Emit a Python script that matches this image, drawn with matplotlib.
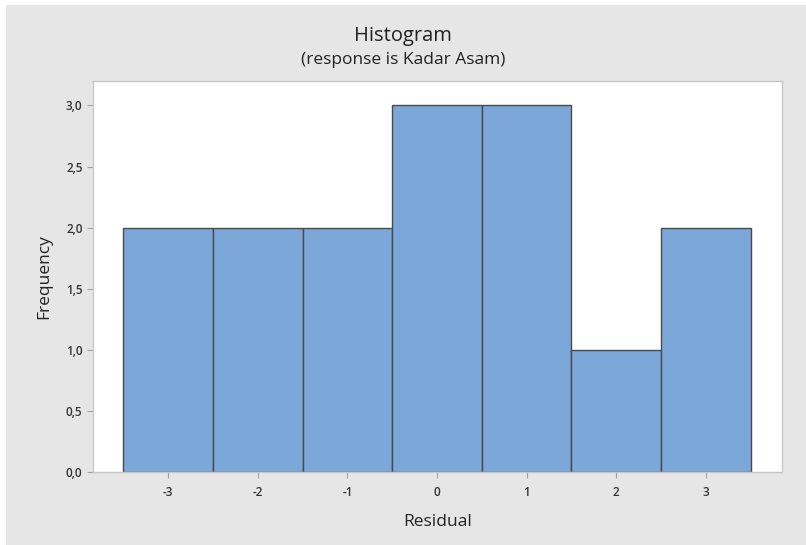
import matplotlib
matplotlib.use("Agg")
import matplotlib.pyplot as plt
from matplotlib.patches import Rectangle
from matplotlib.ticker import FuncFormatter

residual_bins = [-3, -2, -1, 0, 1, 2, 3]
frequency = [2, 2, 2, 3, 3, 1, 2]
y_ticks = [0.0, 0.5, 1.0, 1.5, 2.0, 2.5, 3.0]

plt.rcParams['font.family'] = ['Open Sans', 'DejaVu Sans']
plt.rcParams['axes.unicode_minus'] = False

fig = plt.figure(figsize=(8.06, 5.45), dpi=100, facecolor='white')
fig.patches.append(Rectangle((6/806, 0), 1, 1 - 5/545, transform=fig.transFigure,
                             facecolor='#e6e6e6', edgecolor='none', zorder=-1))

ax = fig.add_axes([93/806, 1 - 472/545, (782-93)/806, (472-81)/545])
ax.set_facecolor('white')
ax.bar(residual_bins, frequency, width=1.0, color='#7ba7d9', edgecolor='#4a4a4a', linewidth=1.0, zorder=2)
ax.set_xlim(-3.84, 3.85)
ax.set_ylim(0, 3.2)
ax.set_xticks(residual_bins)
ax.set_xticklabels([str(v) for v in residual_bins])
ax.set_yticks(y_ticks)
ax.yaxis.set_major_formatter(FuncFormatter(lambda v, p: f"{v:.1f}".replace('.', ',')))
for s in ax.spines.values():
    s.set_color('#c8c8c8')
    s.set_linewidth(1.0)
ax.tick_params(axis='both', colors='#a0a0a0', labelcolor='#333333', labelsize=8.5, length=4, width=0.8)
ax.tick_params(axis='x', pad=6)
for lab in ax.get_xticklabels() + ax.get_yticklabels():
    lab.set_fontweight('semibold')
ax.set_xlabel('Residual', fontsize=12.5, color='#222222', labelpad=11)
ax.set_ylabel('Frequency', fontsize=12.5, color='#222222', labelpad=10)

fig.text(0.5, 1 - 36/545, 'Histogram', ha='center', va='center', fontsize=14.5, color='#222222')
fig.text(0.5, 1 - 60/545, '(response is Kadar Asam)', ha='center', va='center', fontsize=12.5, color='#222222')

fig.savefig('out.png', dpi=100, facecolor=fig.get_facecolor())
